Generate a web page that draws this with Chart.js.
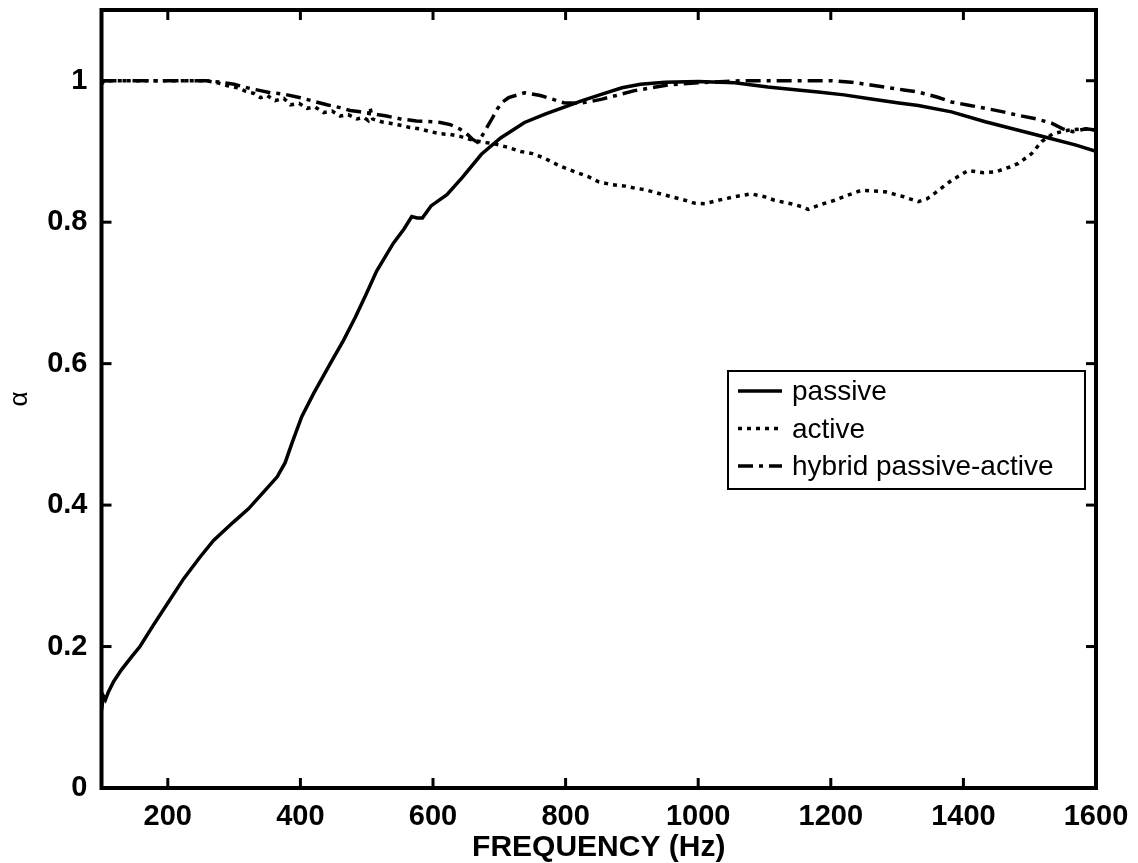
<!DOCTYPE html>
<html><head><meta charset="utf-8">
<script src="https://cdn.jsdelivr.net/npm/chart.js@4.4.0/dist/chart.umd.min.js"></script>
<style>html,body{margin:0;padding:0;background:#fff;}#wrap{width:1138px;height:863px;}</style>
</head><body><div id="wrap"><canvas id="c" width="1138" height="863"></canvas></div>
<script>
const xTicks = [200, 400, 600, 800, 1000, 1200, 1400, 1600];
const yTicks = [0, 0.2, 0.4, 0.6, 0.8, 1];
const seriesLabels = ['passive', 'active', 'hybrid passive-active'];

const passiveFreq  = [100, 103, 106, 110, 118, 130, 145, 158, 178, 201, 224, 249, 269, 299, 322, 345, 365, 377, 387, 402, 420, 445, 465, 483, 500, 515, 540, 556, 568, 576, 584, 597, 621, 644, 673, 702, 738, 770, 796, 825, 855, 885, 913, 950, 1000, 1055, 1105, 1150, 1181, 1220, 1256, 1300, 1332, 1382, 1433, 1483, 1533, 1570, 1600];
const passiveAlpha = [0.11, 0.13, 0.125, 0.135, 0.15, 0.167, 0.185, 0.20, 0.23, 0.263, 0.296, 0.327, 0.35, 0.376, 0.395, 0.419, 0.44, 0.46, 0.487, 0.525, 0.558, 0.60, 0.633, 0.666, 0.70, 0.731, 0.77, 0.79, 0.808, 0.806, 0.806, 0.823, 0.839, 0.863, 0.896, 0.919, 0.941, 0.953, 0.962, 0.972, 0.981, 0.99, 0.995, 0.998, 0.999, 0.997, 0.991, 0.987, 0.984, 0.98, 0.975, 0.969, 0.965, 0.956, 0.942, 0.930, 0.918, 0.909, 0.900];

const activeFreq  = [100, 104, 150, 200, 258, 275, 290, 305, 318, 330, 340, 350, 362, 375, 385, 398, 410, 422, 435, 448, 460, 472, 485, 496, 502, 505, 509, 522, 535, 551, 565, 580, 596, 611, 626, 642, 652, 661, 675, 692, 712, 732, 750, 767, 790, 815, 835, 850, 870, 890, 905, 920, 935, 960, 980, 994, 1010, 1030, 1055, 1080, 1100, 1115, 1140, 1156, 1166, 1185, 1206, 1225, 1246, 1265, 1282, 1310, 1332, 1345, 1357, 1382, 1407, 1430, 1448, 1470, 1483, 1503, 1518, 1535, 1558, 1580, 1600];
const activeAlpha = [0.995, 1.0, 1.0, 1.0, 1.0, 0.997, 0.993, 0.99, 0.985, 0.982, 0.976, 0.979, 0.972, 0.975, 0.966, 0.968, 0.961, 0.963, 0.955, 0.957, 0.95, 0.952, 0.946, 0.948, 0.944, 0.962, 0.946, 0.942, 0.94, 0.937, 0.934, 0.932, 0.928, 0.925, 0.924, 0.921, 0.918, 0.916, 0.913, 0.911, 0.906, 0.90, 0.897, 0.891, 0.88, 0.871, 0.864, 0.857, 0.853, 0.851, 0.848, 0.846, 0.842, 0.836, 0.831, 0.827, 0.826, 0.831, 0.836, 0.840, 0.836, 0.831, 0.826, 0.822, 0.818, 0.825, 0.831, 0.838, 0.845, 0.844, 0.843, 0.836, 0.829, 0.833, 0.841, 0.859, 0.873, 0.870, 0.871, 0.878, 0.883, 0.897, 0.914, 0.925, 0.930, 0.932, 0.930];

const hybridFreq  = [100, 258, 280, 300, 324, 340, 355, 375, 400, 420, 440, 460, 475, 490, 510, 530, 551, 575, 600, 611, 626, 640, 652, 660, 667, 674, 682, 690, 697, 705, 714, 738, 762, 780, 797, 820, 840, 855, 880, 904, 930, 954, 1000, 1040, 1065, 1100, 1150, 1200, 1231, 1260, 1281, 1310, 1332, 1360, 1382, 1410, 1433, 1460, 1483, 1510, 1533, 1550, 1565, 1585, 1600];
const hybridAlpha = [1.0, 1.0, 0.998, 0.995, 0.989, 0.986, 0.983, 0.981, 0.976, 0.971, 0.966, 0.962, 0.958, 0.956, 0.953, 0.95, 0.946, 0.943, 0.942, 0.941, 0.938, 0.932, 0.924, 0.917, 0.913, 0.922, 0.935, 0.948, 0.96, 0.97, 0.976, 0.983, 0.979, 0.974, 0.969, 0.968, 0.971, 0.974, 0.98, 0.986, 0.99, 0.994, 0.997, 0.999, 1.0, 1.0, 1.0, 1.0, 0.998, 0.994, 0.991, 0.987, 0.984, 0.977, 0.97, 0.965, 0.961, 0.956, 0.951, 0.946, 0.94, 0.932, 0.928, 0.932, 0.93];

function pts(fs, as) {
  const n = Math.min(fs.length, as.length);
  const out = [];
  for (let i = 0; i < n; i++) out.push({x: fs[i], y: as[i]});
  return out;
}

const FONT = "'Liberation Sans', Arial, Helvetica, sans-serif";

const framePlugin = {
  id: 'frame',
  afterDatasetsDraw(chart) {
    const ctx = chart.ctx, a = chart.chartArea;
    const xs = chart.scales.x, ys = chart.scales.y;
    ctx.save();
    ctx.strokeStyle = '#000';
    ctx.lineWidth = 3;
    ctx.lineCap = 'butt';
    const line = (x1, y1, x2, y2) => { ctx.beginPath(); ctx.moveTo(x1, y1); ctx.lineTo(x2, y2); ctx.stroke(); };
    xTicks.forEach(v => {
      const p = xs.getPixelForValue(v);
      line(p, a.bottom, p, a.bottom - 10);
      line(p, a.top, p, a.top + 10);
    });
    yTicks.forEach(v => {
      const p = ys.getPixelForValue(v);
      line(a.left, p, a.left + 10, p);
      line(a.right, p, a.right - 10, p);
    });
    ctx.lineWidth = 4;
    ctx.strokeRect(a.left, a.top, a.right - a.left, a.bottom - a.top);
    ctx.restore();
  }
};

const legendPlugin = {
  id: 'boxLegend',
  afterDraw(chart) {
    const ctx = chart.ctx;
    const left = 728, top = 371, right = 1085, bottom = 489;
    ctx.save();
    ctx.fillStyle = '#fff';
    ctx.fillRect(left, top, right - left, bottom - top);
    ctx.strokeStyle = '#000';
    ctx.lineWidth = 2;
    ctx.strokeRect(left, top, right - left, bottom - top);
    ctx.font = "28px " + FONT;
    ctx.fillStyle = '#000';
    ctx.textBaseline = 'alphabetic';
    ctx.textAlign = 'left';
    chart.data.datasets.forEach((ds, i) => {
      const base = 400 + i * 37.5;
      const ly = base - 9;
      ctx.beginPath();
      ctx.setLineDash(ds.borderDash || []);
      ctx.lineWidth = ds.borderWidth;
      ctx.strokeStyle = ds.borderColor;
      ctx.moveTo(738, ly);
      ctx.lineTo(782, ly);
      ctx.stroke();
      ctx.setLineDash([]);
      ctx.fillText(ds.label, 792, base);
    });
    ctx.restore();
  }
};

const fmtY = v => (v === 0 ? '0' : v === 1 ? '1' : v.toFixed(1));
const zeroPad = s => { s.paddingTop = 0; s.paddingBottom = 0; s.paddingLeft = 0; s.paddingRight = 0; };

new Chart(document.getElementById('c'), {
  type: 'line',
  data: {
    datasets: [
      { label: seriesLabels[0], data: pts(passiveFreq, passiveAlpha), borderColor: '#000', borderWidth: 3.5, borderDash: [], pointRadius: 0, tension: 0, fill: false },
      { label: seriesLabels[1], data: pts(activeFreq, activeAlpha), borderColor: '#000', borderWidth: 3.5, borderDash: [4, 5], pointRadius: 0, tension: 0, fill: false },
      { label: seriesLabels[2], data: pts(hybridFreq, hybridAlpha), borderColor: '#000', borderWidth: 3.5, borderDash: [15, 6, 4, 6], pointRadius: 0, tension: 0, fill: false }
    ]
  },
  options: {
    responsive: false,
    animation: false,
    devicePixelRatio: 1,
    layout: { padding: { left: 0, right: 42, top: 10, bottom: 0 } },
    plugins: { legend: { display: false }, tooltip: { enabled: false } },
    scales: {
      x: {
        type: 'linear', min: 100, max: 1600,
        afterBuildTicks: s => { s.ticks = xTicks.map(v => ({ value: v })); },
        afterFit: s => { s.height = 75; zeroPad(s); },
        grid: { display: false },
        border: { display: false },
        ticks: { color: '#000', padding: 4, maxRotation: 0, autoSkip: false, callback: v => String(v), font: { family: FONT, size: 29, weight: 'bold' } },
        title: { display: true, text: 'FREQUENCY (Hz)', color: '#000', padding: { top: 0, bottom: 0 }, font: { family: FONT, size: 30, weight: 'bold', lineHeight: 1 } }
      },
      y: {
        type: 'linear', min: 0, max: 1.1,
        afterBuildTicks: s => { s.ticks = yTicks.map(v => ({ value: v })); },
        afterFit: s => { s.width = 101.5; zeroPad(s); },
        grid: { display: false },
        border: { display: false },
        ticks: { color: '#000', padding: 6, callback: v => fmtY(v), font: { family: FONT, size: 29, weight: 'bold' } },
        title: { display: true, text: 'α', color: '#000', padding: { top: 0, bottom: 0 }, font: { family: FONT, size: 26, lineHeight: 1.5 } }
      }
    }
  },
  plugins: [framePlugin, legendPlugin]
});
</script>
</body></html>
